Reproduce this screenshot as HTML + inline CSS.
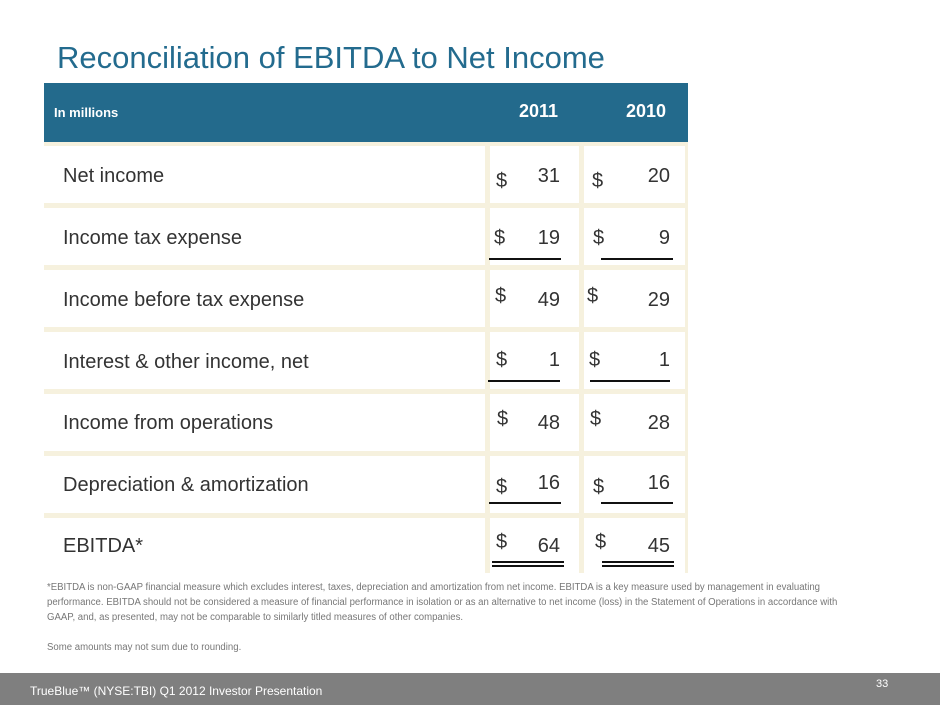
<!DOCTYPE html>
<html><head><style>
body{margin:0;width:940px;height:705px;position:relative;background:#fff;font-family:"Liberation Sans",sans-serif;overflow:hidden}
.a{position:absolute}
.title{left:57px;top:40px;font-size:31px;color:#236b8e}
.hdr{left:44px;top:83px;width:644px;height:59px;background:#236a8c}
.grid{left:44px;top:142px;width:644px;height:431px;background:#f6f1de}
.cell{position:absolute;background:#fff}
.lab{font-size:20px;color:#333;left:63px}
.v{font-size:20px;color:#333;text-align:right}
.d{font-size:20px;color:#333}
.ul{position:absolute;height:2px;background:#111}
.fn{left:47px;top:580px;font-size:10px;color:#777;line-height:15px;white-space:nowrap;transform:scaleX(0.96);transform-origin:0 0}
.foot{left:0;top:673px;width:940px;height:32px;background:#7f7f7f}
</style></head><body>
<div class="a title">Reconciliation of EBITDA to Net Income</div>
<div class="a hdr"></div>
<div class="a" style="left:54px;top:105px;font-size:13px;font-weight:bold;color:#fff">In millions</div>
<div class="a" style="left:519px;top:101px;font-size:18px;font-weight:bold;color:#fff">2011</div>
<div class="a" style="left:626px;top:101px;font-size:18px;font-weight:bold;color:#fff">2010</div>
<div class="a grid">
<div class="cell" style="left:0;top:4px;width:441px;height:57px"></div><div class="cell" style="left:446px;top:4px;width:89px;height:57px"></div><div class="cell" style="left:540px;top:4px;width:101px;height:57px"></div>
<div class="cell" style="left:0;top:66px;width:441px;height:57px"></div><div class="cell" style="left:446px;top:66px;width:89px;height:57px"></div><div class="cell" style="left:540px;top:66px;width:101px;height:57px"></div>
<div class="cell" style="left:0;top:128px;width:441px;height:57px"></div><div class="cell" style="left:446px;top:128px;width:89px;height:57px"></div><div class="cell" style="left:540px;top:128px;width:101px;height:57px"></div>
<div class="cell" style="left:0;top:190px;width:441px;height:57px"></div><div class="cell" style="left:446px;top:190px;width:89px;height:57px"></div><div class="cell" style="left:540px;top:190px;width:101px;height:57px"></div>
<div class="cell" style="left:0;top:252px;width:441px;height:57px"></div><div class="cell" style="left:446px;top:252px;width:89px;height:57px"></div><div class="cell" style="left:540px;top:252px;width:101px;height:57px"></div>
<div class="cell" style="left:0;top:314px;width:441px;height:57px"></div><div class="cell" style="left:446px;top:314px;width:89px;height:57px"></div><div class="cell" style="left:540px;top:314px;width:101px;height:57px"></div>
<div class="cell" style="left:0;top:376px;width:441px;height:55px"></div><div class="cell" style="left:446px;top:376px;width:89px;height:55px"></div><div class="cell" style="left:540px;top:376px;width:101px;height:55px"></div>
</div>
<div class="a lab" style="top:165px">Net income</div>
<div class="a lab" style="top:227px">Income tax expense</div>
<div class="a lab" style="top:289px">Income before tax expense</div>
<div class="a lab" style="top:351px">Interest &amp; other income, net</div>
<div class="a lab" style="top:412px">Income from operations</div>
<div class="a lab" style="top:474px">Depreciation &amp; amortization</div>
<div class="a lab" style="top:535px">EBITDA*</div>

<div class="a d" style="left:496px;top:170px">$</div><div class="a v" style="left:520px;width:40px;top:165px">31</div>
<div class="a d" style="left:592px;top:170px">$</div><div class="a v" style="left:630px;width:40px;top:165px">20</div>
<div class="a d" style="left:494px;top:227px">$</div><div class="a v" style="left:520px;width:40px;top:227px">19</div>
<div class="a d" style="left:593px;top:227px">$</div><div class="a v" style="left:630px;width:40px;top:227px">9</div>
<div class="ul" style="left:489px;top:258px;width:72px"></div><div class="ul" style="left:601px;top:258px;width:72px"></div>
<div class="a d" style="left:495px;top:285px">$</div><div class="a v" style="left:520px;width:40px;top:289px">49</div>
<div class="a d" style="left:587px;top:285px">$</div><div class="a v" style="left:630px;width:40px;top:289px">29</div>
<div class="a d" style="left:496px;top:349px">$</div><div class="a v" style="left:520px;width:40px;top:349px">1</div>
<div class="a d" style="left:589px;top:349px">$</div><div class="a v" style="left:630px;width:40px;top:349px">1</div>
<div class="ul" style="left:488px;top:380px;width:72px"></div><div class="ul" style="left:590px;top:380px;width:80px"></div>
<div class="a d" style="left:497px;top:408px">$</div><div class="a v" style="left:520px;width:40px;top:412px">48</div>
<div class="a d" style="left:590px;top:408px">$</div><div class="a v" style="left:630px;width:40px;top:412px">28</div>
<div class="a d" style="left:496px;top:476px">$</div><div class="a v" style="left:520px;width:40px;top:472px">16</div>
<div class="a d" style="left:593px;top:476px">$</div><div class="a v" style="left:630px;width:40px;top:472px">16</div>
<div class="ul" style="left:489px;top:502px;width:72px"></div><div class="ul" style="left:601px;top:502px;width:72px"></div>
<div class="a d" style="left:496px;top:531px">$</div><div class="a v" style="left:520px;width:40px;top:535px">64</div>
<div class="a d" style="left:595px;top:531px">$</div><div class="a v" style="left:630px;width:40px;top:535px">45</div>
<div class="ul" style="left:492px;top:561px;width:72px"></div><div class="ul" style="left:492px;top:565px;width:72px"></div>
<div class="ul" style="left:602px;top:561px;width:72px"></div><div class="ul" style="left:602px;top:565px;width:72px"></div>

<div class="a fn">*EBITDA is non-GAAP financial measure which excludes interest, taxes, depreciation and amortization from net income. EBITDA is a key measure used by management in evaluating<br>performance. EBITDA should not be considered a measure of financial performance in isolation or as an alternative to net income (loss) in the Statement of Operations in accordance with<br>GAAP, and, as presented, may not be comparable to similarly titled measures of other companies.<br><br>Some amounts may not sum due to rounding.</div>
<div class="a foot"></div>
<div class="a" style="left:30px;top:684px;font-size:12px;color:#fff">TrueBlue™ (NYSE:TBI) Q1 2012 Investor Presentation</div>
<div class="a" style="left:876px;top:678px;font-size:11px;color:#fff">33</div>
</body></html>
